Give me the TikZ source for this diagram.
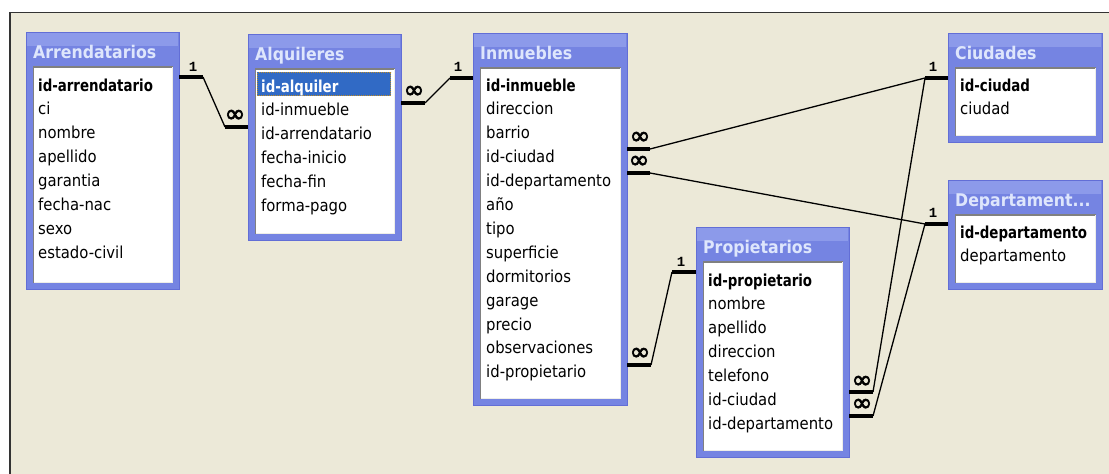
\documentclass[tikz,border=0pt]{standalone}
\usepackage{graphicx}
\usepackage{fontspec}
\setmainfont{DejaVu Sans Condensed}
\newfontfamily\symfont{DejaVu Sans}[FakeBold=2.5]
\newfontfamily\onefont{Liberation Mono}
\definecolor{bg}{RGB}{236,233,216}
\definecolor{winline}{RGB}{51,51,51}
\definecolor{tabblue}{RGB}{117,132,226}
\definecolor{tabtop}{RGB}{140,154,234}
\definecolor{tabedge}{RGB}{98,110,214}
\definecolor{titletxt}{RGB}{222,230,252}
\definecolor{sunkdark}{RGB}{128,128,128}
\definecolor{sunklight}{RGB}{238,238,232}
\definecolor{selblue}{RGB}{49,106,197}
\definecolor{focusc}{RGB}{190,140,40}
\newcommand\kf[1]{\scalebox{0.9}[1]{#1}}
\tikzset{
  tframe/.style={draw=tabedge, line width=1, fill=tabblue, outer sep=0, inner sep=0},
  tlist/.style={fill=white, draw=none, outer sep=0, inner sep=0},
  ttitle/.style={font=\bfseries\fontsize{17.5}{20}\selectfont, text=titletxt, inner sep=0, anchor=base west},
  fld/.style={font=\fontsize{16.5}{20}\selectfont, inner sep=0, anchor=base west},
  keyfld/.style={font=\bfseries\fontsize{16.5}{20}\selectfont, inner sep=0, anchor=base west},
  bar/.style={line width=4, black},
  rel/.style={line width=1.3, black},
  one/.style={font=\onefont\bfseries\fontsize{14}{14}\selectfont, inner sep=0},
  many/.style={font=\symfont\fontsize{25}{25}\selectfont, inner sep=0},
}
\newcommand\dbtable[6]{%
  \node[tframe, anchor=north west, minimum width={(#4)-(#2)}, minimum height={(#5)-(#3)}] (#1) at (#2,#3) {};
  \fill[tabtop] ({#2+1},{#3+1}) rectangle ({#4-1},{#3+14});
  \node[tlist, anchor=north west, minimum width={(#4)-(#2)-14}, minimum height={(#5)-(#3)-41.5}] (#1L) at ({#2+7.5},{#3+35}) {};
  \draw[line width=1.5, sunkdark] (#1L.south west) -- (#1L.north west) -- (#1L.north east);
  \draw[line width=1.5, sunklight] (#1L.north east) -- (#1L.south east) -- (#1L.south west);
  \node[ttitle] (#1T) at ({#2+7},{#3+26}) {#6};
}
\newcommand\dbfields[5]{%
  \node[keyfld] (#1-1) at (#2,#3) {\kf{#4}};
  \foreach \f [count=\i from 2] in {#5} {\node[fld] (#1-\i) at (#2,{#3+(\i-1)*23.9}) {\f};}
}
\begin{document}
\begin{tikzpicture}[x=1pt, y=-1pt]
\useasboundingbox (0,0) rectangle (1109,474);
\fill[white] (0,0) rectangle (1109,474);
\fill[winline] (9,11.7) rectangle (1109,474);
\fill[bg] (11,13.3) rectangle (1109,474);

% tables
\dbtable{tArr}{26}{32}{179}{289}{Arrendatarios}
\dbtable{tAlq}{248}{34}{401}{240}{Alquileres}
\dbtable{tInm}{473}{33}{627}{405}{Inmuebles}
\dbtable{tCiu}{948}{33}{1102}{142}{Ciudades}
\dbtable{tDep}{948}{180}{1102}{289}{Departament...}
\dbtable{tPro}{696}{227}{849}{457}{Propietarios}

% selected row
\fill[selblue] (257,72) rectangle (391,96);
\draw[focusc, line width=1, dash pattern=on 1pt off 1pt] (257.5,72.5) rectangle (390.5,95.5);

% fields
\dbfields{fArr}{38}{91}{id-arrendatario}{ci,nombre,apellido,garantia,fecha-nac,sexo,estado-civil}
\dbfields{fAlq}{261}{92}{\textcolor{white}{id-alquiler}}{id-inmueble,id-arrendatario,fecha-inicio,fecha-fin,forma-pago}
\dbfields{fInm}{486}{91}{id-inmueble}{direccion,barrio,id-ciudad,id-departamento,año,tipo,superficie,dormitorios,garage,precio,observaciones,id-propietario}
\dbfields{fCiu}{960}{91}{id-ciudad}{ciudad}
\dbfields{fDep}{960}{238}{id-departamento}{departamento}
\dbfields{fPro}{708}{286}{id-propietario}{nombre,apellido,direccion,telefono,id-ciudad,id-departamento}

% relationship end points
\coordinate (r1a) at (tArr.east |- 0,77);
\coordinate (r1b) at ([xshift=24]r1a);
\coordinate (r1d) at (tAlq.west |- 0,127);
\coordinate (r1c) at ([xshift=-23]r1d);
\coordinate (r2a) at (tAlq.east |- 0,103);
\coordinate (r2b) at ([xshift=24]r2a);
\coordinate (r2d) at (tInm.west |- 0,78);
\coordinate (r2c) at ([xshift=-23]r2d);
\coordinate (r3a) at (tInm.east |- 0,149);
\coordinate (r3b) at ([xshift=23]r3a);
\coordinate (r3d) at (tCiu.west |- 0,78);
\coordinate (r3c) at ([xshift=-23]r3d);
\coordinate (r4a) at (tInm.east |- 0,173);
\coordinate (r4b) at ([xshift=23]r4a);
\coordinate (r4d) at (tDep.west |- 0,224);
\coordinate (r4c) at ([xshift=-23]r4d);
\coordinate (r5a) at (tInm.east |- 0,365);
\coordinate (r5b) at ([xshift=24]r5a);
\coordinate (r5d) at (tPro.west |- 0,272);
\coordinate (r5c) at ([xshift=-24]r5d);
\coordinate (r6a) at (tPro.east |- 0,392);
\coordinate (r6b) at ([xshift=24]r6a);
\coordinate (r7a) at (tPro.east |- 0,416);
\coordinate (r7b) at ([xshift=24]r7a);

% connectors
\draw[rel] (r1b) -- (r1c);
\draw[rel] (r2b) -- (r2c);
\draw[rel] (r3b) -- (r3c);
\draw[rel] (r4b) -- (r4c);
\draw[rel] (r5b) -- (r5c);
\draw[rel] (r6b) -- (r3c);
\draw[rel] (r7b) -- (r4c);
\draw[bar] (r1a) -- (r1b);
\draw[bar] (r1c) -- (r1d);
\draw[bar] (r2a) -- (r2b);
\draw[bar] (r2c) -- (r2d);
\draw[bar] (r3a) -- (r3b);
\draw[bar] (r3c) -- (r3d);
\draw[bar] (r4a) -- (r4b);
\draw[bar] (r4c) -- (r4d);
\draw[bar] (r5a) -- (r5b);
\draw[bar] (r5c) -- (r5d);
\draw[bar] (r6a) -- (r6b);
\draw[bar] (r7a) -- (r7b);

% cardinality labels
\node[one] (l1o) at ([shift={(14,-10)}]r1a) {1};
\node[many] (l1m) at ([shift={(-13,-11)}]r1d) {∞};
\node[many] (l2m) at ([shift={(13,-11)}]r2a) {∞};
\node[one] (l2o) at ([shift={(-15,-11)}]r2d) {1};
\node[many] (l3m) at ([shift={(13,-11)}]r3a) {∞};
\node[one] (l3o) at ([shift={(-15,-11)}]r3d) {1};
\node[many] (l4m) at ([shift={(12,-11)}]r4a) {∞};
\node[one] (l4o) at ([shift={(-15,-11)}]r4d) {1};
\node[many] (l5m) at ([shift={(13,-11)}]r5a) {∞};
\node[one] (l5o) at ([shift={(-15,-10)}]r5d) {1};
\node[many] (l6m) at ([shift={(13,-10)}]r6a) {∞};
\node[many] (l7m) at ([shift={(13,-11)}]r7a) {∞};
\end{tikzpicture}
\end{document}
